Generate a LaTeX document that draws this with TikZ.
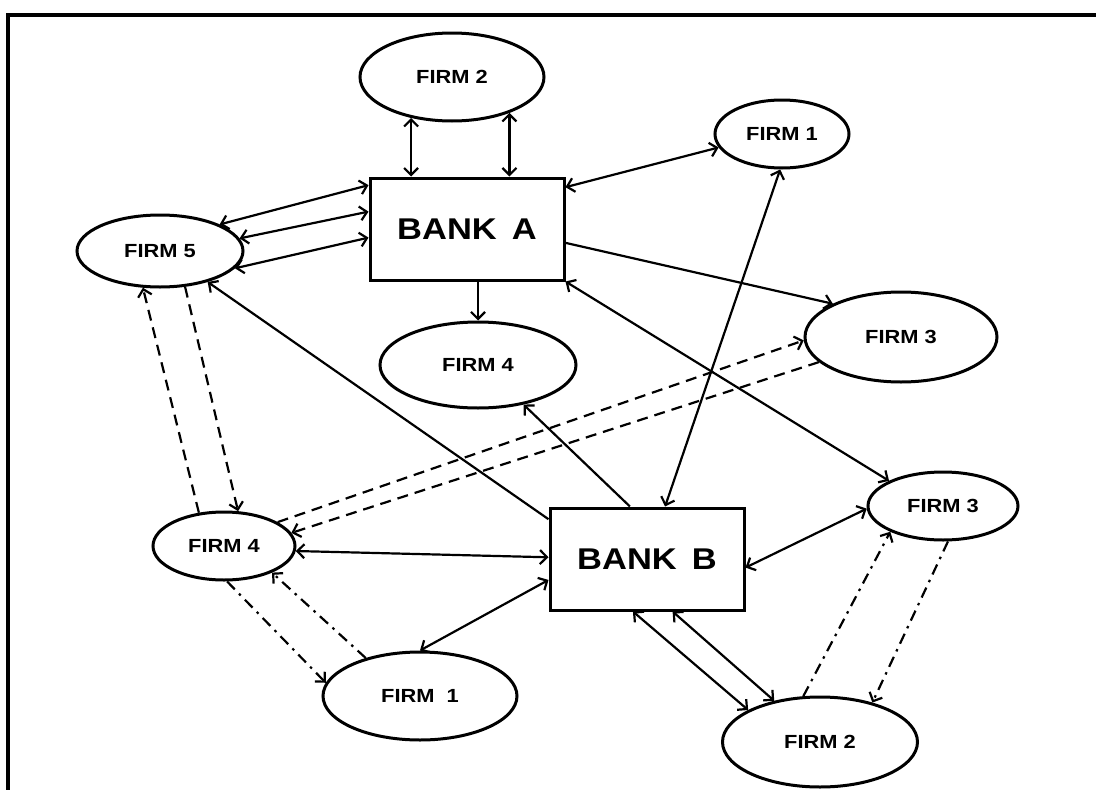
\documentclass[tikz,border=0pt]{standalone}
\usepackage{fontspec}
\setmainfont{Liberation Sans}[FakeStretch=1.15]
\usepackage{tikz}
\usetikzlibrary{shapes.geometric}
\usetikzlibrary{arrows.meta}
\tikzset{firm/.style={ellipse, draw, line width=3pt, inner sep=0pt, font=\fontsize{19}{20}\selectfont\bfseries},
  bank/.style={rectangle, draw, line width=3pt, minimum width=194pt, minimum height=102pt, font=\fontsize{30}{32}\selectfont\bfseries},
  link/.style={line width=2.2pt},
  dashlink/.style={link, dash pattern=on 11pt off 7pt},
  dotlink/.style={link, dash pattern=on 11pt off 6pt on 2.5pt off 6pt}}

\begin{document}
\begin{tikzpicture}[x=1pt, y=-1pt, >={Straight Barb[length=7pt,width=14pt]}]
  \useasboundingbox (0,0) rectangle (1096,790);
  \draw[line width=4.5pt] (8,790) -- (8,15) -- (1096,15);
  \node[bank] (bankA) at (467,229) {BANK\hspace{.5em}A};
  \node[bank] (bankB) at (647,559) {BANK\hspace{.5em}B};
  \node[firm, minimum width=184pt, minimum height=88pt] (f2a) at (452,77) {FIRM 2};
  \node[firm, minimum width=134pt, minimum height=68pt] (f1a) at (782,134) {FIRM 1};
  \node[firm, minimum width=166pt, minimum height=72pt] (f5) at (160,251) {FIRM 5};
  \node[firm, minimum width=192pt, minimum height=90pt] (f3a) at (901,337) {FIRM 3};
  \node[firm, minimum width=196pt, minimum height=86pt] (f4a) at (478,365) {FIRM 4};
  \node[firm, minimum width=142pt, minimum height=68pt] (f4b) at (224,546) {FIRM 4};
  \node[firm, minimum width=150pt, minimum height=68pt] (f3b) at (943,506) {FIRM 3};
  \node[firm, minimum width=194pt, minimum height=88pt] (f1b) at (420,696) {FIRM\ \ 1};
  \node[firm, minimum width=195pt, minimum height=90pt] (f2b) at (820,742) {FIRM 2};
  \draw[link,<->] (f2a.-135) -- (f2a.-135 |- bankA.north);
  \draw[link,<->] (f2a.-32) -- (f2a.-32 |- bankA.north);
  \draw[link,->] (bankA.south -| f4a.north) -- (f4a.north);
  \foreach \a/\b in {bankA.23/f1a.192, f5.24/bankA.156, f5.9/bankA.170, f5.-13/bankA.185,
      bankA.south east/f3b.155, bankB.71/f1a.-93, f4b.-4/bankB.179, bankB.192/f1b.north,
      bankB.-5/f3b.182, bankB.-105/f2b.156, bankB.-64/f2b.138}
    \draw[link,<->] (\a) -- (\b);
  \foreach \a/\b in {bankA.-8/f3a.154, bankB.158/f5.-33, bankB.108/f4a.-41}
    \draw[link,->] (\a) -- (\b);
  \foreach \a/\b in {f4b.127/f5.-115, f5.-55/f4b.68, f4b.24/f3a.182, f3a.197/f4b.11}
    \draw[dashlink,->] (\a) -- (\b);
  \foreach \a/\b in {f4b.-85/f1b.172, f1b.145/f4b.-29, f2b.110/f3b.206, f3b.-82/f2b.37}
    \draw[dotlink,->] (\a) -- (\b);
\end{tikzpicture}
\end{document}
